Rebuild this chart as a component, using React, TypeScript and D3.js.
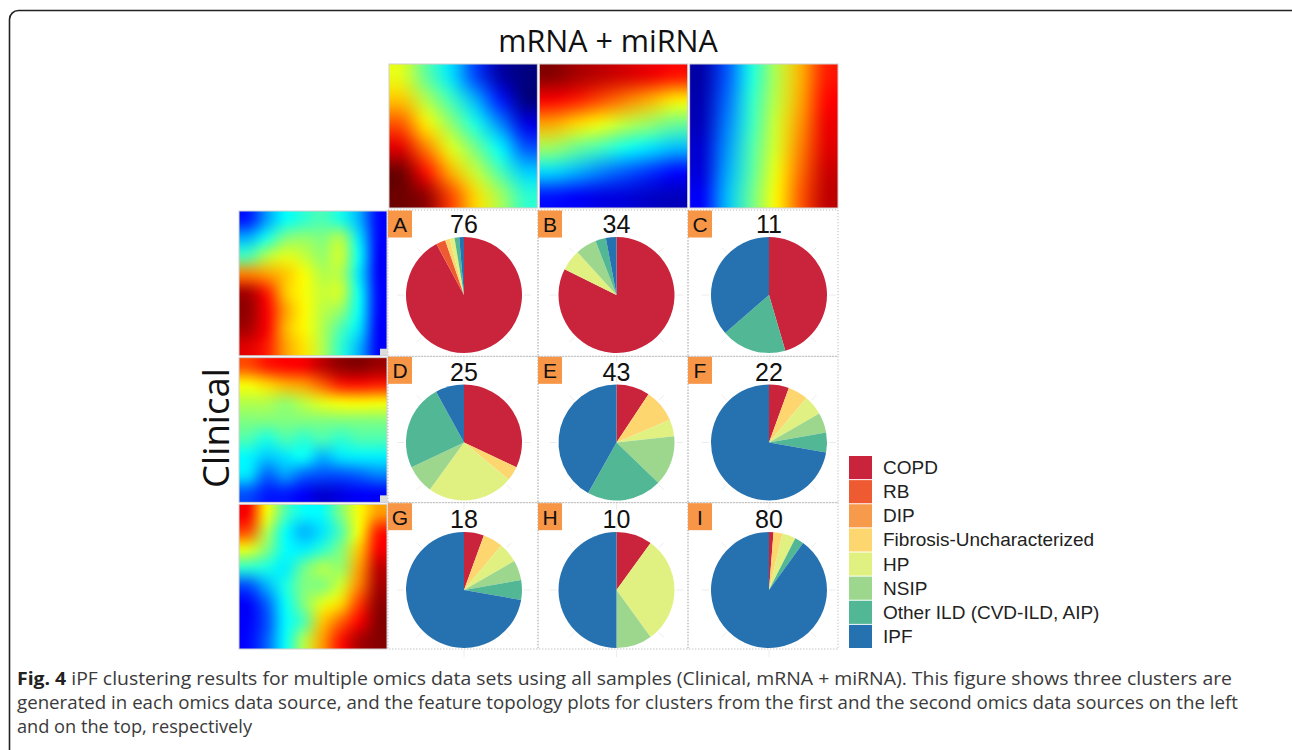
import React, { useMemo } from "react";
import * as d3 from "d3";

// disease categories and legend colours
const categories = [
  "COPD",
  "RB",
  "DIP",
  "Fibrosis-Uncharacterized",
  "HP",
  "NSIP",
  "Other ILD (CVD-ILD, AIP)",
  "IPF"
];
const categoryColors = [
  "#c9243c",
  "#ee5a32",
  "#f89a4b",
  "#fdd670",
  "#e1f181",
  "#9dd78e",
  "#52b795",
  "#2672b0"
];

// clusters (3 clinical x 3 mRNA+miRNA)
const clusterLetters = ["A", "B", "C", "D", "E", "F", "G", "H", "I"];
const clusterSizes = [76, 34, 11, 25, 43, 22, 18, 10, 80];
const clusterCounts = [
  [70, 2, 0, 1, 1, 0, 1, 1],
  [28, 0, 0, 0, 2, 2, 1, 1],
  [5, 0, 0, 0, 0, 0, 2, 4],
  [8, 0, 0, 1, 6, 2, 6, 2],
  [4, 0, 0, 4, 2, 6, 9, 18],
  [1, 0, 0, 1, 1, 1, 1, 13],
  [1, 0, 0, 1, 1, 1, 1, 13],
  [1, 0, 0, 0, 3, 1, 0, 5],
  [1, 0, 0, 2, 3, 0, 2, 72]
];

// feature topology maps (jet scale 0..1), top row = mRNA + miRNA clusters
const topMap1 = [
  [0.6, 0.47, 0.35, 0.19, 0.04, 0.0],
  [0.68, 0.55, 0.44, 0.3, 0.15, 0.0],
  [0.79, 0.64, 0.52, 0.4, 0.26, 0.1],
  [0.9, 0.75, 0.6, 0.49, 0.37, 0.21],
  [1.0, 0.86, 0.7, 0.57, 0.45, 0.33],
  [1.0, 0.97, 0.81, 0.66, 0.54, 0.42]
];
const topMap2 = [
  [0.98, 0.95, 0.93, 0.91, 0.89, 0.86],
  [0.88, 0.85, 0.8, 0.75, 0.7, 0.64],
  [0.71, 0.66, 0.61, 0.56, 0.52, 0.48],
  [0.53, 0.48, 0.44, 0.39, 0.35, 0.31],
  [0.34, 0.3, 0.25, 0.21, 0.17, 0.13],
  [0.14, 0.12, 0.1, 0.09, 0.07, 0.06]
];
const topMap3 = [
  [0.04, 0.21, 0.4, 0.55, 0.7, 0.85],
  [0.05, 0.23, 0.42, 0.56, 0.71, 0.87],
  [0.06, 0.25, 0.43, 0.58, 0.73, 0.89],
  [0.08, 0.27, 0.45, 0.59, 0.75, 0.9],
  [0.09, 0.29, 0.46, 0.61, 0.77, 0.92],
  [0.12, 0.31, 0.48, 0.63, 0.79, 0.93]
];
// left column = clinical clusters
const leftMap1 = [
  [0.15, 0.28, 0.38, 0.42, 0.45, 0.4, 0.3, 0.13],
  [0.3, 0.4, 0.5, 0.52, 0.5, 0.55, 0.35, 0.13],
  [0.45, 0.55, 0.6, 0.57, 0.52, 0.58, 0.38, 0.12],
  [0.75, 0.72, 0.68, 0.62, 0.55, 0.55, 0.35, 0.12],
  [0.95, 0.85, 0.68, 0.62, 0.57, 0.58, 0.38, 0.13],
  [0.97, 0.88, 0.72, 0.63, 0.56, 0.52, 0.38, 0.13],
  [0.95, 0.88, 0.7, 0.63, 0.55, 0.45, 0.35, 0.12],
  [0.9, 0.85, 0.72, 0.65, 0.55, 0.42, 0.3, 0.12]
];
const leftMap2 = [
  [0.8, 0.85, 0.87, 0.88, 0.93, 0.97, 0.98, 0.96],
  [0.62, 0.66, 0.7, 0.72, 0.78, 0.85, 0.86, 0.85],
  [0.55, 0.55, 0.52, 0.56, 0.6, 0.62, 0.63, 0.62],
  [0.5, 0.5, 0.5, 0.5, 0.5, 0.5, 0.5, 0.5],
  [0.45, 0.4, 0.45, 0.42, 0.45, 0.42, 0.45, 0.45],
  [0.37, 0.32, 0.35, 0.38, 0.3, 0.35, 0.36, 0.36],
  [0.35, 0.22, 0.28, 0.22, 0.2, 0.2, 0.22, 0.25],
  [0.2, 0.15, 0.15, 0.12, 0.08, 0.1, 0.12, 0.12]
];
const leftMap3 = [
  [0.88, 0.62, 0.45, 0.38, 0.38, 0.5, 0.62, 0.72],
  [0.8, 0.55, 0.38, 0.3, 0.35, 0.45, 0.62, 0.85],
  [0.6, 0.5, 0.38, 0.36, 0.42, 0.5, 0.68, 0.88],
  [0.42, 0.4, 0.36, 0.48, 0.55, 0.52, 0.72, 0.93],
  [0.2, 0.3, 0.4, 0.5, 0.5, 0.58, 0.75, 0.95],
  [0.12, 0.22, 0.38, 0.5, 0.6, 0.66, 0.82, 0.97],
  [0.12, 0.2, 0.37, 0.45, 0.68, 0.78, 0.88, 0.98],
  [0.13, 0.22, 0.38, 0.55, 0.72, 0.86, 0.95, 0.98]
];
const topMaps = [topMap1, topMap2, topMap3];
const leftMaps = [leftMap1, leftMap2, leftMap3];

const captionLines = [
  "iPF clustering results for multiple omics data sets using all samples (Clinical, mRNA + miRNA). This figure shows three clusters are",
  "generated in each omics data source, and the feature topology plots for clusters from the first and the second omics data sources on the left",
  "and on the top, respectively"
];

const W = 1292,
  H = 750;

const jet = d3
  .scaleLinear<string>()
  .domain([0, 0.125, 0.375, 0.625, 0.875, 1])
  .range(["#00007f", "#0000ff", "#00ffff", "#ffff00", "#ff0000", "#6e0000"])
  .clamp(true);

function mapToUrl(grid: number[][], w: number, h: number) {
  const rows = grid.length,
    cols = grid[0].length;
  const small = document.createElement("canvas");
  small.width = cols;
  small.height = rows;
  const sctx = small.getContext("2d")!;
  const img = sctx.createImageData(cols, rows);
  grid.forEach((row, r) =>
    row.forEach((v, c) => {
      const col = d3.rgb(jet(v));
      const i = (r * cols + c) * 4;
      img.data[i] = col.r;
      img.data[i + 1] = col.g;
      img.data[i + 2] = col.b;
      img.data[i + 3] = 255;
    })
  );
  sctx.putImageData(img, 0, 0);
  const big = document.createElement("canvas");
  big.width = Math.round(w);
  big.height = Math.round(h);
  const bctx = big.getContext("2d")!;
  bctx.imageSmoothingEnabled = true;
  bctx.imageSmoothingQuality = "high";
  bctx.drawImage(small, 0, 0, big.width, big.height);
  return big.toDataURL();
}

const Heatmap = ({ grid, x, y, w, h }) => {
  const url = useMemo(() => mapToUrl(grid, w, h), [grid, w, h]);
  return (
    <g>
      <image href={url} x={x} y={y} width={w} height={h} preserveAspectRatio="none" />
      <rect x={x} y={y} width={w} height={h} fill="none" stroke="#d0d0d0" strokeWidth={1} />
    </g>
  );
};

function App() {
  // heatmap placement
  const topX = d3.scaleBand<number>().domain([0, 1, 2]).range([389, 838]).paddingInner(0.013);
  const leftY = d3.scaleBand<number>().domain([0, 1, 2]).range([211, 649]).paddingInner(0.013);

  // pie grid
  const cellX = d3.scaleBand<number>().domain([0, 1, 2]).range([388, 838]);
  const cellY = d3.scaleBand<number>().domain([0, 1, 2]).range([210, 649]);
  const pieCx = d3.scaleLinear().domain([0, 2]).range([464, 769]);
  const pieCy = d3.scaleLinear().domain([0, 2]).range([295, 590]);
  const radius = 58;

  const pie = d3
    .pie<number>()
    .sort(null)
    .value(d => d);
  const arc = d3.arc<d3.PieArcDatum<number>>().innerRadius(0).outerRadius(radius);

  const legendY = d3.scaleBand<number>().domain(d3.range(categories.length)).range([456, 649]);

  const font = "'Liberation Sans', Arial, sans-serif";

  return (
    <svg
      width={W}
      height={H}
      style={{ position: "absolute", left: 0, top: 0, background: "#fff" }}
    >
      <rect x={9.5} y={10.5} width={W + 20} height={H + 20} rx={9} fill="#fff" stroke="#222" strokeWidth={1.6} />

      <text x={608} y={52} textAnchor="middle" fontFamily="'Open Sans', sans-serif" fontSize={30.5} fill="#111">
        mRNA + miRNA
      </text>
      <text
        transform="translate(229,428) rotate(-90)"
        textAnchor="middle"
        fontFamily="'Open Sans', sans-serif"
        fontSize={36.5}
        fill="#111"
      >
        Clinical
      </text>

      {topMaps.map((g, i) => (
        <Heatmap key={"t" + i} grid={g} x={topX(i)} y={64} w={topX.bandwidth()} h={144} />
      ))}
      {leftMaps.map((g, i) => (
        <Heatmap key={"l" + i} grid={g} x={239} y={leftY(i)} w={148} h={leftY.bandwidth()} />
      ))}
      {[0, 1].map(i => (
        <rect
          key={"c" + i}
          x={380}
          y={leftY(i) + leftY.bandwidth() - 7}
          width={7}
          height={7}
          fill="#dcdcdc"
        />
      ))}

      {clusterCounts.map((counts, k) => {
        const r = Math.floor(k / 3),
          c = k % 3;
        const cx = pieCx(c),
          cy = pieCy(r);
        return (
          <g key={"p" + k}>
            <rect
              x={cellX(c)}
              y={cellY(r)}
              width={cellX.bandwidth()}
              height={cellY.bandwidth()}
              fill="none"
              stroke="#a8a8a8"
              strokeWidth={0.8}
              strokeDasharray="1.2,1.8"
            />
            {d3.range(8).map(t => {
              const a = (t * Math.PI) / 4;
              return (
                <line
                  key={t}
                  x1={cx + Math.sin(a) * (radius + 2)}
                  y1={cy - Math.cos(a) * (radius + 2)}
                  x2={cx + Math.sin(a) * (radius + 9)}
                  y2={cy - Math.cos(a) * (radius + 9)}
                  stroke="#ececec"
                  strokeWidth={1}
                />
              );
            })}
            <g transform={`translate(${cx},${cy})`}>
              {pie(counts).map((d, i) =>
                d.value > 0 ? <path key={i} d={arc(d) || ""} fill={categoryColors[i]} /> : null
              )}
            </g>
            <rect x={cellX(c)} y={cellY(r) + 0.5} width={24} height={27} fill="#f79646" />
            <text x={cellX(c) + 12} y={cellY(r) + 22} textAnchor="middle" fontFamily={font} fontSize={21} fill="#111">
              {clusterLetters[k]}
            </text>
            <text x={cx} y={cy - 62} textAnchor="middle" fontFamily={font} fontSize={25} fill="#111">
              {clusterSizes[k]}
            </text>
          </g>
        );
      })}

      {categories.map((name, i) => (
        <g key={name}>
          <rect x={849} y={legendY(i)} width={23} height={legendY.bandwidth() - 1} fill={categoryColors[i]} />
          <text x={883} y={legendY(i) + 18} fontFamily={font} fontSize={19} fill="#222">
            {name}
          </text>
        </g>
      ))}

      <g fontFamily="'Open Sans', sans-serif" fontSize={18} fill="#3a3a3a">
        <text x={17} y={685} textLength={1215} lengthAdjust="spacingAndGlyphs">
          <tspan fontWeight="bold" fill="#222">
            Fig. 4
          </tspan>{" "}
          {captionLines[0]}
        </text>
        <text x={17} y={709} textLength={1221} lengthAdjust="spacingAndGlyphs">
          {captionLines[1]}
        </text>
        <text x={17} y={733} textLength={235} lengthAdjust="spacingAndGlyphs">
          {captionLines[2]}
        </text>
      </g>
    </svg>
  );
}

export default App;
